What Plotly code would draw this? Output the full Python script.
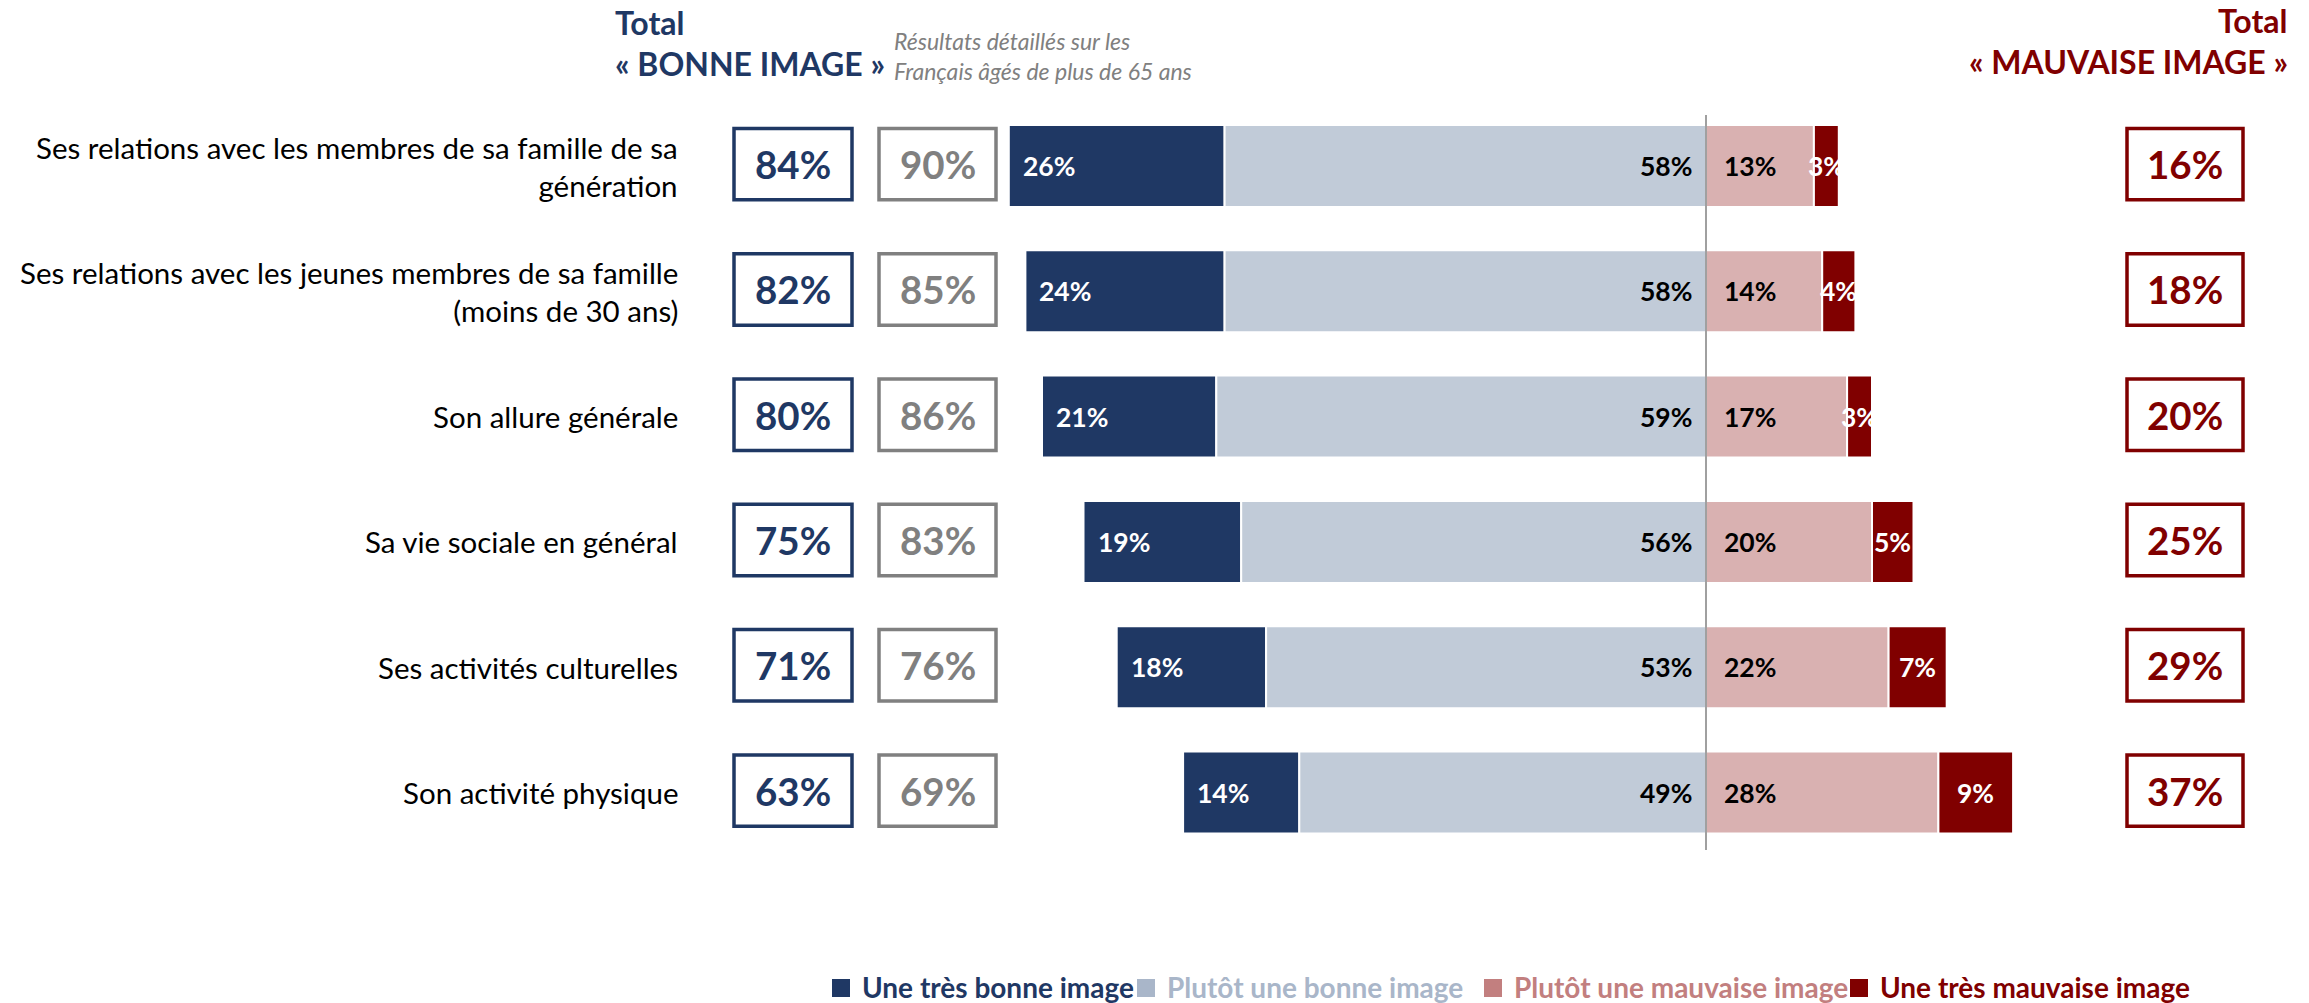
import plotly.graph_objects as go

# ---------------- data ----------------
categories = [
    "Ses relations avec les membres de sa famille de sa<br>génération",
    "Ses relations avec les jeunes membres de sa famille<br>(moins de 30 ans)",
    "Son allure générale",
    "Sa vie sociale en général",
    "Ses activités culturelles",
    "Son activité physique",
]
tres_bonne = [26, 24, 21, 19, 18, 14]
plutot_bonne = [58, 58, 59, 56, 53, 49]
plutot_mauvaise = [13, 14, 17, 20, 22, 28]
tres_mauvaise = [3, 4, 3, 5, 7, 9]
total_bonne = [84, 82, 80, 75, 71, 63]
total_bonne_65 = [90, 85, 86, 83, 76, 69]
total_mauvaise = [16, 18, 20, 25, 29, 37]
series_names = ["Une très bonne image", "Plutôt une bonne image",
                "Plutôt une mauvaise image", "Une très mauvaise image"]

# ---------------- style ----------------
W, H = 2309, 1003
NAVY = "#1F3864"
LIGHT = "#C1CBD8"
PINK = "#D9B1B1"
DRED = "#800000"
GREY = "#808080"
LEG_LIGHT = "#A9B6C9"
LEG_PINK = "#C27F7F"
FONT = "Lato"

ZERO_PX = 1706.0
PX_PER = 8.3
ROW0_PX = 166.0
ROW_PITCH = 125.3

x_range = [-ZERO_PX / PX_PER, (W - ZERO_PX) / PX_PER]
y_range = [(H - ROW0_PX) / ROW_PITCH, -ROW0_PX / ROW_PITCH]
ypos = list(range(len(categories)))
BAR_W = 82 / ROW_PITCH


def px(xp):
    return xp / W


def py(yp):
    return 1 - yp / H


fig = go.Figure()
neg_base1 = [-(a + b) for a, b in zip(tres_bonne, plutot_bonne)]
neg_base2 = [-b for b in plutot_bonne]
fig.add_trace(go.Bar(y=ypos, x=tres_bonne, base=neg_base1, orientation="h",
                     marker=dict(color=NAVY, line=dict(color="white", width=2)),
                     width=BAR_W, name=series_names[0], hoverinfo="skip"))
fig.add_trace(go.Bar(y=ypos, x=plutot_bonne, base=neg_base2, orientation="h",
                     marker=dict(color=LIGHT, line=dict(color="white", width=2)),
                     width=BAR_W, name=series_names[1], hoverinfo="skip"))
fig.add_trace(go.Bar(y=ypos, x=plutot_mauvaise, base=[0] * len(ypos), orientation="h",
                     marker=dict(color=PINK, line=dict(color="white", width=2)),
                     width=BAR_W, name=series_names[2], hoverinfo="skip"))
fig.add_trace(go.Bar(y=ypos, x=tres_mauvaise, base=plutot_mauvaise, orientation="h",
                     marker=dict(color=DRED, line=dict(color="white", width=2)),
                     width=BAR_W, name=series_names[3], hoverinfo="skip"))

ann = []
shapes = []
LBL = 26.5
for i in ypos:
    # category label
    ann.append(dict(x=px(680), xref="paper", y=i, yref="y", xanchor="right", yanchor="middle",
                    text=categories[i], showarrow=False, align="right",
                    font=dict(family=FONT, size=29.5, color="#000000")))
    # segment labels
    ann.append(dict(x=neg_base1[i], xref="x", y=i, yref="y", xanchor="left", xshift=12,
                    text=f"{tres_bonne[i]}%", showarrow=False,
                    font=dict(family=FONT, size=LBL, color="white", weight="bold")))
    ann.append(dict(x=0, xref="x", y=i, yref="y", xanchor="right", xshift=-12,
                    text=f"{plutot_bonne[i]}%", showarrow=False,
                    font=dict(family=FONT, size=LBL, color="black", weight="bold")))
    ann.append(dict(x=0, xref="x", y=i, yref="y", xanchor="left", xshift=16,
                    text=f"{plutot_mauvaise[i]}%", showarrow=False,
                    font=dict(family=FONT, size=LBL, color="black", weight="bold")))
    ann.append(dict(x=plutot_mauvaise[i] + tres_mauvaise[i] / 2, xref="x", y=i, yref="y",
                    xanchor="center", text=f"{tres_mauvaise[i]}%", showarrow=False,
                    font=dict(family=FONT, size=LBL, color="white", weight="bold")))
    # boxes
    for (x0, x1, col, val) in [(734, 852, NAVY, total_bonne[i]),
                               (879, 996, GREY, total_bonne_65[i]),
                               (2127, 2243, DRED, total_mauvaise[i])]:
        shapes.append(dict(type="rect", xref="paper", yref="y", x0=px(x0), x1=px(x1),
                           y0=i - 0.30, y1=i + 0.27, line=dict(color=col, width=3.5),
                           fillcolor="white", layer="above"))
        ann.append(dict(x=px((x0 + x1) / 2), xref="paper", y=i - 0.015, yref="y",
                        xanchor="center", yanchor="middle", text=f"{val}%", showarrow=False,
                        font=dict(family=FONT, size=38.5, color=col, weight="bold")))

# zero line
shapes.append(dict(type="line", xref="x", yref="paper", x0=0, x1=0,
                   y0=py(850), y1=py(115), line=dict(color=GREY, width=1.5), layer="above"))

# headers
ann += [
    dict(x=px(613), y=py(22), xref="paper", yref="paper", xanchor="left", yanchor="middle",
         text="Total", showarrow=False, font=dict(family=FONT, size=32, color=NAVY, weight="bold")),
    dict(x=px(613), y=py(64), xref="paper", yref="paper", xanchor="left", yanchor="middle",
         text="« BONNE IMAGE »", showarrow=False,
         font=dict(family=FONT, size=32, color=NAVY, weight="bold")),
    dict(x=px(892), y=py(56), xref="paper", yref="paper", xanchor="left", yanchor="middle",
         align="left", text="Résultats détaillés sur les<br>Français âgés de plus de 65 ans",
         showarrow=False, font=dict(family=FONT, size=23, color=GREY, style="italic")),
    dict(x=px(2290), y=py(20), xref="paper", yref="paper", xanchor="right", yanchor="middle",
         text="Total", showarrow=False, font=dict(family=FONT, size=32, color=DRED, weight="bold")),
    dict(x=px(2290), y=py(62), xref="paper", yref="paper", xanchor="right", yanchor="middle",
         text="« MAUVAISE IMAGE »", showarrow=False,
         font=dict(family=FONT, size=32, color=DRED, weight="bold")),
]

# legend
leg_items = [(832, NAVY, NAVY), (1137, LEG_LIGHT, LEG_LIGHT),
             (1484, LEG_PINK, LEG_PINK), (1850, DRED, DRED)]
for (xl, sq, tc), name in zip(leg_items, series_names):
    shapes.append(dict(type="rect", xref="paper", yref="paper", x0=px(xl), x1=px(xl + 18),
                       y0=py(997), y1=py(979), fillcolor=sq, line=dict(width=0)))
    ann.append(dict(x=px(xl + 28), y=py(987), xref="paper", yref="paper", xanchor="left",
                    yanchor="middle", text=name, showarrow=False,
                    font=dict(family=FONT, size=28, color=tc, weight="bold")))

fig.update_layout(
    width=W, height=H, margin=dict(l=0, r=0, t=0, b=0),
    paper_bgcolor="white", plot_bgcolor="white",
    barmode="overlay", showlegend=False,
    xaxis=dict(range=x_range, visible=False, fixedrange=True),
    yaxis=dict(range=y_range, visible=False, fixedrange=True),
    annotations=ann, shapes=shapes,
)
fig.write_html("out.html", config={"displayModeBar": False},
               post_script="document.body.style.margin='0';document.body.style.overflow='hidden';")
